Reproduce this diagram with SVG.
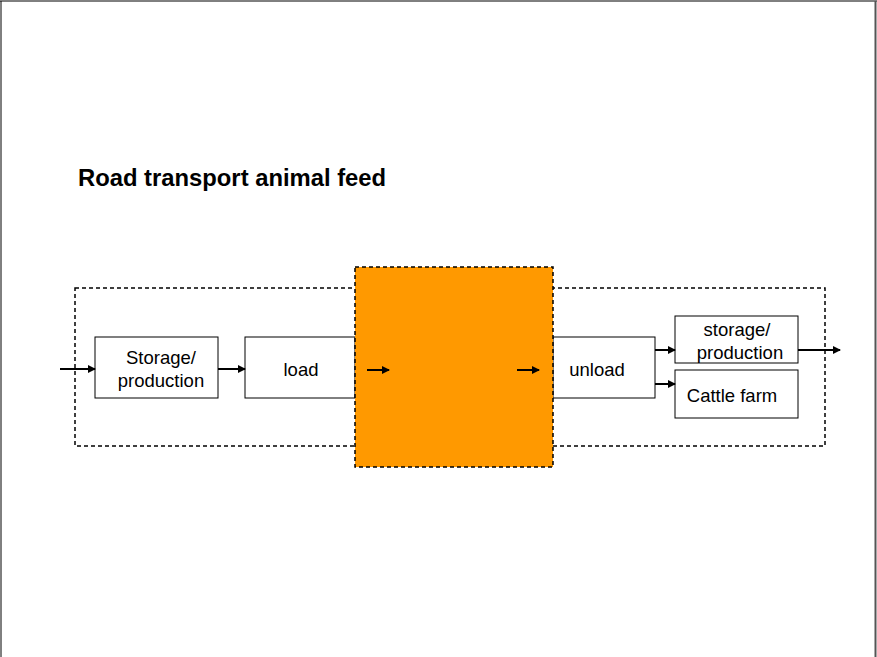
<svg xmlns="http://www.w3.org/2000/svg" width="877" height="657" viewBox="0 0 877 657">
<defs>
<marker id="ah" markerWidth="8" markerHeight="8" refX="7" refY="4" orient="auto" markerUnits="userSpaceOnUse">
<path d="M0,0 L8,4 L0,8 Z" fill="#000"/>
</marker>
<style>
.box{fill:#fff;stroke:#000;stroke-width:1}
.t{font-family:"Liberation Sans",Arial,sans-serif;font-size:18.5px;fill:#000;text-anchor:middle}
.c{stroke:#000;stroke-width:2;fill:none;marker-end:url(#ah)}
.dash{fill:none;stroke:#000;stroke-width:1.5;stroke-dasharray:4,3}
</style>
</defs>
<rect width="877" height="657" fill="#fff"/>
<g id="page">
<line x1="0" y1="1" x2="877" y2="1" stroke="#000" stroke-width="1"/>
<line x1="1" y1="1" x2="1" y2="657" stroke="#000" stroke-width="1"/>
<line x1="875.5" y1="1" x2="875.5" y2="657" stroke="#555" stroke-width="2"/>
</g>
<text x="78" y="186" font-family="'Liberation Sans',Arial,sans-serif" font-size="23.8" font-weight="bold">Road transport animal feed</text>
<g id="boundary"><rect class="dash" x="75" y="288" width="750" height="158"/></g>
<g id="storage1"><rect class="box" x="95" y="337" width="123" height="61"/><text class="t" x="161" y="364">Storage/</text><text class="t" x="161" y="387">production</text></g>
<g id="load"><rect class="box" x="245" y="337" width="110" height="61"/><text class="t" x="301" y="376">load</text></g>
<g id="unload"><rect class="box" x="553" y="337" width="102" height="61"/><text class="t" x="597" y="376">unload</text></g>
<g id="storage2"><rect class="box" x="675" y="316" width="123" height="47"/><text class="t" x="737" y="336">storage/</text><text class="t" x="740" y="359">production</text></g>
<g id="cattle"><rect class="box" x="675" y="370" width="123" height="48"/><text class="t" x="732" y="402">Cattle farm</text></g>
<g id="transport"><rect x="355" y="267" width="198" height="200" fill="#FF9900" stroke="#000" stroke-width="1.5" stroke-dasharray="4,3"/></g>
<g id="connectors">
<line class="c" x1="60" y1="369" x2="95" y2="369"/>
<line class="c" x1="218" y1="369" x2="245" y2="369"/>
<line class="c" x1="367" y1="370" x2="389" y2="370"/>
<line class="c" x1="517" y1="370" x2="539" y2="370"/>
<line class="c" x1="655" y1="350" x2="675" y2="350"/>
<line class="c" x1="655" y1="384" x2="675" y2="384"/>
<line class="c" x1="798" y1="350" x2="840" y2="350"/>
</g>
</svg>
